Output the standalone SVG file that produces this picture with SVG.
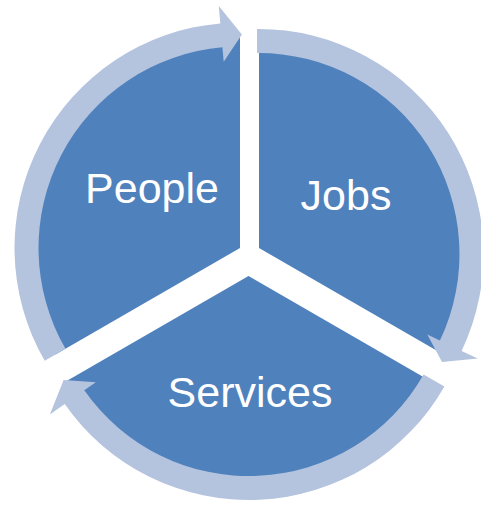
<svg xmlns="http://www.w3.org/2000/svg" width="481" height="505" viewBox="0 0 481 505">
  <style>
    .seg { fill: #4F81BD; }
    .arrow { fill: #B4C3DE; }
    .lbl { fill: #FFFFFF; font-family: "Liberation Sans", Arial, sans-serif; font-size: 43px; text-anchor: middle; }
  </style>
  <rect width="481" height="505" fill="#FFFFFF"/>
  <g id="people">
    <path class="seg" d="M240,248 L240,35 A213,213 0 0 0 55.5,354.5 Z"/>
    <text class="lbl" x="152" y="203">People</text>
  </g>
  <g id="jobs">
    <path class="seg" d="M259,248 L259,35 A213,213 0 0 1 443.5,354.5 Z"/>
    <text class="lbl" x="346" y="210">Jobs</text>
  </g>
  <g id="services">
    <path class="seg" d="M248.5,276 L432.1,382 A212,212 0 0 1 64.9,382 Z"/>
    <text class="lbl" x="250" y="407">Services</text>
  </g>
  <g id="connectors">
    <path class="arrow" d="M44.7,360.75 A225.5,225.5 0 0 1 220.35,23.4 L218.8,5.9 L241.9,34.5 L223.7,61.7 L222.4,47.3 A201.5,201.5 0 0 0 65.5,348.75 Z"/>
    <path class="arrow" d="M257,29 A225,225 0 0 1 461.6,350.9 L477.8,358.6 L442,362.1 L427.3,334.5 L439.9,340.5 A201,201 0 0 0 257,53 Z"/>
    <path class="arrow" d="M444.4,386.5 A225,225 0 0 1 64.7,404.1 L49.9,414.4 L63.6,379.9 L95.8,382.3 L84.3,390.3 A201,201 0 0 0 423.6,374.6 Z"/>
  </g>
</svg>
